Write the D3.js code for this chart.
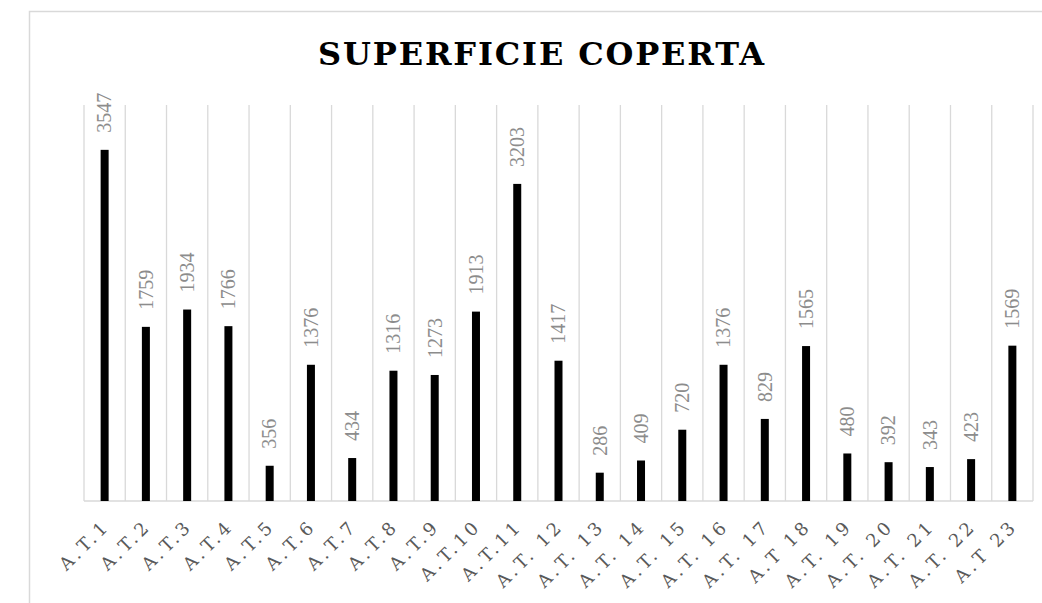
<!DOCTYPE html>
<html>
<head>
<meta charset="utf-8">
<script src="https://cdn.jsdelivr.net/npm/d3@7"></script>
<style>
  html, body { margin: 0; padding: 0; background: #fff; }
  svg { display: block; }
</style>
</head>
<body>
<svg id="chart" width="1042" height="603"></svg>
<script>
// Category labels (as written on the axis)
const categories = [
  "A.T.1", "A.T.2", "A.T.3", "A.T.4", "A.T.5", "A.T.6", "A.T.7", "A.T.8",
  "A.T.9", "A.T.10", "A.T.11", "A.T. 12", "A.T. 13", "A.T. 14", "A.T. 15",
  "A.T. 16", "A.T. 17", "A.T 18", "A.T. 19", "A.T. 20", "A.T. 21", "A.T. 22", "A.T 23"
];
// Covered surface per area
const superficie = [
  3547, 1759, 1934, 1766, 356, 1376, 434, 1316, 1273, 1913, 3203, 1417,
  286, 409, 720, 1376, 829, 1565, 480, 392, 343, 423, 1569
];
const yDomain = [0, 4000];
const titleText = "SUPERFICIE COPERTA";

const svg = d3.select("#chart");
const W = 1042, H = 603;

svg.append("rect").attr("width", W).attr("height", H).attr("fill", "#fff");

// chart area frame
svg.append("rect")
  .attr("x", 29.5).attr("y", 11.5)
  .attr("width", W + 20).attr("height", H + 20)
  .attr("fill", "none").attr("stroke", "#d9d9d9").attr("stroke-width", 1.5);

const plot = { left: 84, right: 1033, top: 105, bottom: 501 };

const x = d3.scaleBand()
  .domain(categories)
  .range([plot.left, plot.right])
  .paddingInner(0).paddingOuter(0);

const y = d3.scaleLinear().domain(yDomain).range([plot.bottom, plot.top]);

// vertical category gridlines
const edges = categories.map(c => x(c)).concat([plot.right]);
svg.append("g")
  .selectAll("line")
  .data(edges)
  .join("line")
  .attr("x1", d => d).attr("x2", d => d)
  .attr("y1", plot.top).attr("y2", plot.bottom)
  .attr("stroke", "#d9d9d9").attr("stroke-width", 1.3);

// baseline
svg.append("line")
  .attr("x1", plot.left).attr("x2", plot.right)
  .attr("y1", plot.bottom).attr("y2", plot.bottom)
  .attr("stroke", "#d9d9d9").attr("stroke-width", 1.5);

// bars
const barW = 8;
svg.append("g")
  .selectAll("rect")
  .data(superficie)
  .join("rect")
  .attr("x", (d, i) => x(categories[i]) + x.bandwidth() / 2 - barW / 2)
  .attr("y", d => y(d))
  .attr("width", barW)
  .attr("height", d => y(0) - y(d))
  .attr("fill", "#000");

// value labels, rotated
svg.append("g")
  .selectAll("text")
  .data(superficie)
  .join("text")
  .attr("transform", (d, i) =>
    `translate(${x(categories[i]) + x.bandwidth() / 2},${y(d) - 17}) rotate(-90)`)
  .attr("dy", "0.34em")
  .attr("text-anchor", "start")
  .attr("font-family", "'Liberation Serif', serif")
  .attr("font-size", 20)
  .attr("fill", "#8c8c8c")
  .text(d => d);

// category labels at -45°
svg.append("g")
  .selectAll("text")
  .data(categories)
  .join("text")
  .attr("transform", d =>
    `translate(${x(d) + x.bandwidth() / 2 - 3},${plot.bottom + 17}) rotate(-45)`)
  .attr("dy", "0.72em")
  .attr("text-anchor", "end")
  .attr("font-family", "'DejaVu Serif', serif")
  .attr("font-size", 18)
  .attr("letter-spacing", 3.5)
  .attr("fill", "#595959")
  .text(d => d);

// title
svg.append("text")
  .attr("x", 318).attr("y", 65)
  .attr("textLength", 446)
  .attr("lengthAdjust", "spacing")
  .attr("font-family", "'DejaVu Serif', serif")
  .attr("font-weight", "bold")
  .attr("font-size", 32)
  .attr("fill", "#000")
  .text(titleText);
</script>
</body>
</html>
